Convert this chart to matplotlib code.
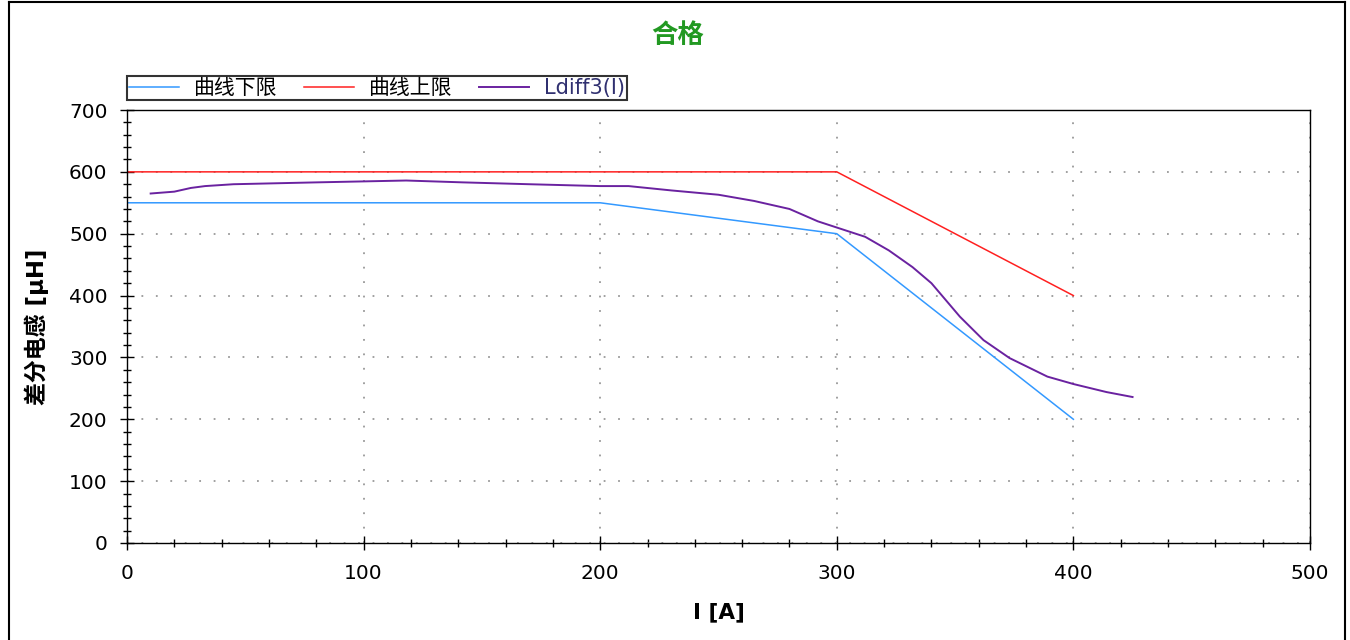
import numpy as np
import matplotlib
matplotlib.use('Agg')
import matplotlib.pyplot as plt
from matplotlib.lines import Line2D
from matplotlib.ticker import MultipleLocator

plt.rcParams['font.family'] = ['DejaVu Sans', 'Noto Sans CJK SC']

# limit curves
lower_x = [0, 200, 300, 400]
lower_y = [550, 550, 500, 200]
upper_x = [0, 300, 400]
upper_y = [600, 600, 400]

# measured curve
meas_x = [10, 20, 27, 33, 45, 80, 118, 142, 170, 200, 212, 230, 250, 265, 280,
          292, 300, 312, 322, 332, 340, 346, 352, 362, 373, 389, 400, 414, 425]
meas_y = [565, 568, 574, 577, 580, 583, 586, 583, 580, 577, 577, 570, 563, 553, 540,
          520, 510, 495, 473, 446, 420, 393, 366, 328, 299, 269, 257, 244, 236]

labels = ['曲线下限', '曲线上限', 'Ldiff3(I)']

fig = plt.figure(figsize=(13.5, 6.4), dpi=100)
ax = fig.add_axes([127/1350, 97/640, (1310-127)/1350, (543-110)/640])

ax.plot(lower_x, lower_y, color='#3399ff', lw=1.1, label=labels[0])
ax.plot(upper_x, upper_y, color='#ff2020', lw=1.1, label=labels[1])
ax.plot(meas_x, meas_y, color='#6a22a0', lw=1.4, label=labels[2])

ax.set_xlim(0, 500)
ax.set_ylim(0, 700)
ax.xaxis.set_major_locator(MultipleLocator(100))
ax.xaxis.set_minor_locator(MultipleLocator(20))
ax.yaxis.set_major_locator(MultipleLocator(100))
ax.yaxis.set_minor_locator(MultipleLocator(20))
ax.tick_params(which='major', direction='inout', length=10, width=1, labelsize=14.5)
ax.tick_params(axis='x', which='major', pad=10)
ax.tick_params(axis='y', which='major', pad=9)
ax.tick_params(which='minor', direction='inout', length=6, width=1)
ax.grid(True, which='major', color='#999999', linestyle=(0, (1, 7)), lw=1.3)
for s in ax.spines.values():
    s.set_color('black')
    s.set_linewidth(1)

ax.set_xlabel('I [A]', fontsize=15.5, fontweight='bold', labelpad=14)
ax.set_ylabel('差分电感 [μH]', fontsize=16.5, fontweight='bold', labelpad=14)
fig.text(678/1350, 1 - 36/640, '合格', color='#229922', fontsize=19,
         fontweight='bold', ha='center', va='center')

leg = ax.legend(ncol=3, loc='lower left', bbox_to_anchor=(127/1350, 1 - 100/640),
                bbox_transform=fig.transFigure, fontsize=15, frameon=True,
                fancybox=False, handlelength=2.4, columnspacing=1.3,
                borderpad=0.1, handletextpad=0.7, borderaxespad=0)
leg.get_frame().set_edgecolor('black')
leg.get_frame().set_linewidth(1.5)
leg.get_texts()[2].set_color('#303070')

# outer frame
fig.add_artist(Line2D([8.5/1350, 8.5/1350], [0, 1 - 2/640], color='black', lw=1.5,
                      transform=fig.transFigure))
fig.add_artist(Line2D([8.5/1350, 1345/1350], [1 - 2/640, 1 - 2/640], color='black', lw=1.5,
                      transform=fig.transFigure))
fig.add_artist(Line2D([1345/1350, 1345/1350], [0, 1 - 2/640], color='black', lw=1.5,
                      transform=fig.transFigure))

fig.savefig('out.png', dpi=100)
